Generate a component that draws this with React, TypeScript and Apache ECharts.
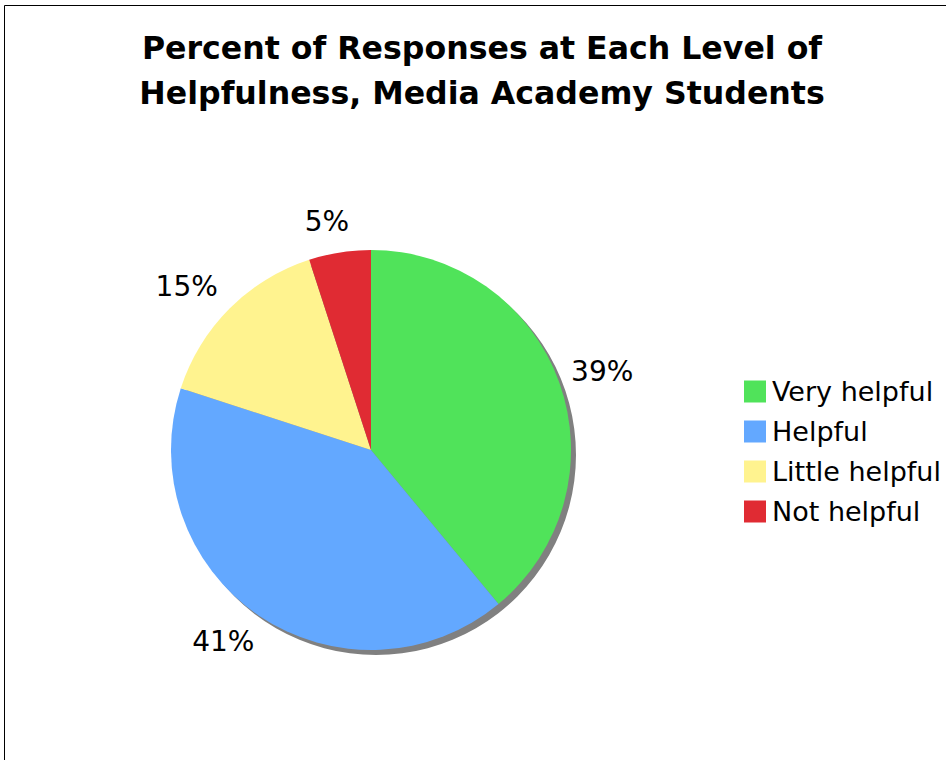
import React, { useEffect, useRef } from "react";
import * as echarts from "echarts";

const categories = ["Very helpful", "Helpful", "Little helpful", "Not helpful"];
const percentValues = [39, 41, 15, 5];
const sliceColors = ["#50E35A", "#63A8FF", "#FFF38F", "#E02B33"];
const titleLines = ["Percent of Responses at Each Level of", "Helpfulness, Media Academy Students"];

export default function App() {
  const ref = useRef<HTMLDivElement>(null);
  useEffect(() => {
    if (!ref.current) return;
    const chart = echarts.init(ref.current, null, { renderer: "svg" });
    const cx = 371;
    const cy = 450;
    const r = 200;
    const labelRadius = 221;
    const labelShiftX = -6;
    const data = categories.map((name, i) => ({
      name,
      value: percentValues[i],
      itemStyle: { color: sliceColors[i] },
    }));
    chart.setOption({
      animation: false,
      backgroundColor: "#ffffff",
      title: {
        text: titleLines.join("\n"),
        left: 477,
        top: 20,
        textAlign: "center",
        textStyle: {
          fontFamily: "DejaVu Sans",
          fontWeight: "bold",
          fontSize: 31.6,
          lineHeight: 45,
          color: "#000",
        },
      },
      legend: {
        orient: "vertical",
        left: 744,
        top: 378,
        padding: 0,
        itemWidth: 22,
        itemHeight: 22,
        itemGap: 13,
        icon: "rect",
        selectedMode: false,
        data: categories,
        textStyle: {
          fontFamily: "DejaVu Sans",
          fontSize: 27,
          lineHeight: 27,
          color: "#000",
          padding: [0, 0, 0, 1],
        },
      },
      graphic: [
        {
          type: "rect",
          silent: true,
          shape: { x: 4.5, y: 5.5, width: 1200, height: 1200 },
          style: { fill: "none", stroke: "#000", lineWidth: 1 },
        },
      ],
      series: [
        {
          type: "pie",
          name: "main",
          center: [cx, cy],
          radius: [0, r],
          startAngle: 90,
          clockwise: true,
          silent: true,
          z: 3,
          label: {
            show: true,
            position: "inside",
            formatter: "{c}%",
            fontFamily: "DejaVu Sans",
            fontSize: 28,
            color: "#000",
          },
          labelLine: { show: false },
          labelLayout: (params: any) => {
            const lr = params.labelRect;
            const lx = lr.x + lr.width / 2 - cx;
            const ly = lr.y + lr.height / 2 - cy;
            const len = Math.sqrt(lx * lx + ly * ly) || 1;
            const ux = lx / len;
            const uy = ly / len;
            return {
              x: cx + labelShiftX + ux * (labelRadius + lr.width / 2),
              y: cy + uy * (labelRadius + 10.5),
              align: "center",
              verticalAlign: "middle",
            };
          },
          data,
        },
        {
          type: "pie",
          name: "shadow",
          center: [cx + 5, cy + 5],
          radius: [0, r],
          silent: true,
          z: 1,
          label: { show: false },
          labelLine: { show: false },
          itemStyle: { color: "#808080" },
          data: [{ name: "shadow", value: 1 }],
        },
      ],
    });
    return () => chart.dispose();
  }, []);
  return (
    <div
      ref={ref}
      style={{ position: "fixed", left: 0, top: 0, width: 946, height: 760 }}
    />
  );
}
